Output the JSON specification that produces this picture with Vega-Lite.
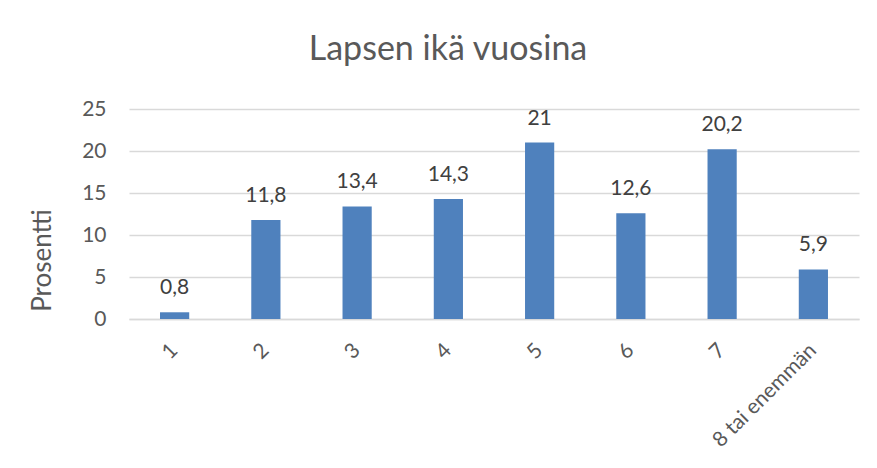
{
  "$schema": "https://vega.github.io/schema/vega-lite/v6.json",
  "autosize": "none",
  "width": 730,
  "height": 210,
  "padding": {"left": 129, "top": 109, "right": 18, "bottom": 149},
  "background": "white",
  "config": {
    "view": {"stroke": null},
    "font": "Lato"
  },
  "title": {
    "text": "Lapsen ikä vuosina",
    "fontSize": 34,
    "font": "Lato",
    "fontWeight": "normal",
    "color": "#595959",
    "anchor": "middle",
    "frame": "group",
    "dx": -46,
    "baseline": "alphabetic",
    "offset": 4
  },
  "data": {
    "values": [
      {"ika": "1", "prosentti": 0.8, "label": "0,8"},
      {"ika": "2", "prosentti": 11.8, "label": "11,8"},
      {"ika": "3", "prosentti": 13.4, "label": "13,4"},
      {"ika": "4", "prosentti": 14.3, "label": "14,3"},
      {"ika": "5", "prosentti": 21, "label": "21"},
      {"ika": "6", "prosentti": 12.6, "label": "12,6"},
      {"ika": "7", "prosentti": 20.2, "label": "20,2"},
      {"ika": "8 tai enemmän", "prosentti": 5.9, "label": "5,9"}
    ]
  },
  "encoding": {
    "x": {
      "field": "ika",
      "type": "nominal",
      "sort": null,
      "scale": {"paddingInner": 0.68, "paddingOuter": 0.34},
      "axis": {
        "title": null,
        "labelAngle": -45,
        "labelAlign": "right",
        "labelBaseline": "middle",
        "labelPadding": 28,
        "labelFontSize": 21,
        "labelColor": "#595959",
        "labelFont": "Lato",
        "ticks": false,
        "domainColor": "#d9d9d9",
        "domainWidth": 1.5,
        "grid": false
      }
    },
    "y": {
      "field": "prosentti",
      "type": "quantitative",
      "scale": {"domain": [0, 25], "nice": false},
      "axis": {
        "values": [0, 5, 10, 15, 20, 25],
        "title": "Prosentti",
        "titleFont": "Lato",
        "titleFontSize": 26,
        "titleFontWeight": "normal",
        "titleColor": "#595959",
        "titleAngle": -90,
        "titleX": -87,
        "titleY": 151,
        "titleAlign": "center",
        "titleBaseline": "middle",
        "labelFontSize": 21,
        "labelColor": "#595959",
        "labelFont": "Lato",
        "labelPadding": 23,
        "ticks": false,
        "domain": false,
        "gridColor": "#d9d9d9",
        "gridWidth": 1.5
      }
    }
  },
  "layer": [
    {"mark": {"type": "bar", "color": "#4f81bd"}},
    {
      "mark": {"type": "text", "baseline": "alphabetic", "dy": -18, "fontSize": 21, "font": "Lato", "color": "#404040"},
      "encoding": {"text": {"field": "label"}}
    }
  ]
}
